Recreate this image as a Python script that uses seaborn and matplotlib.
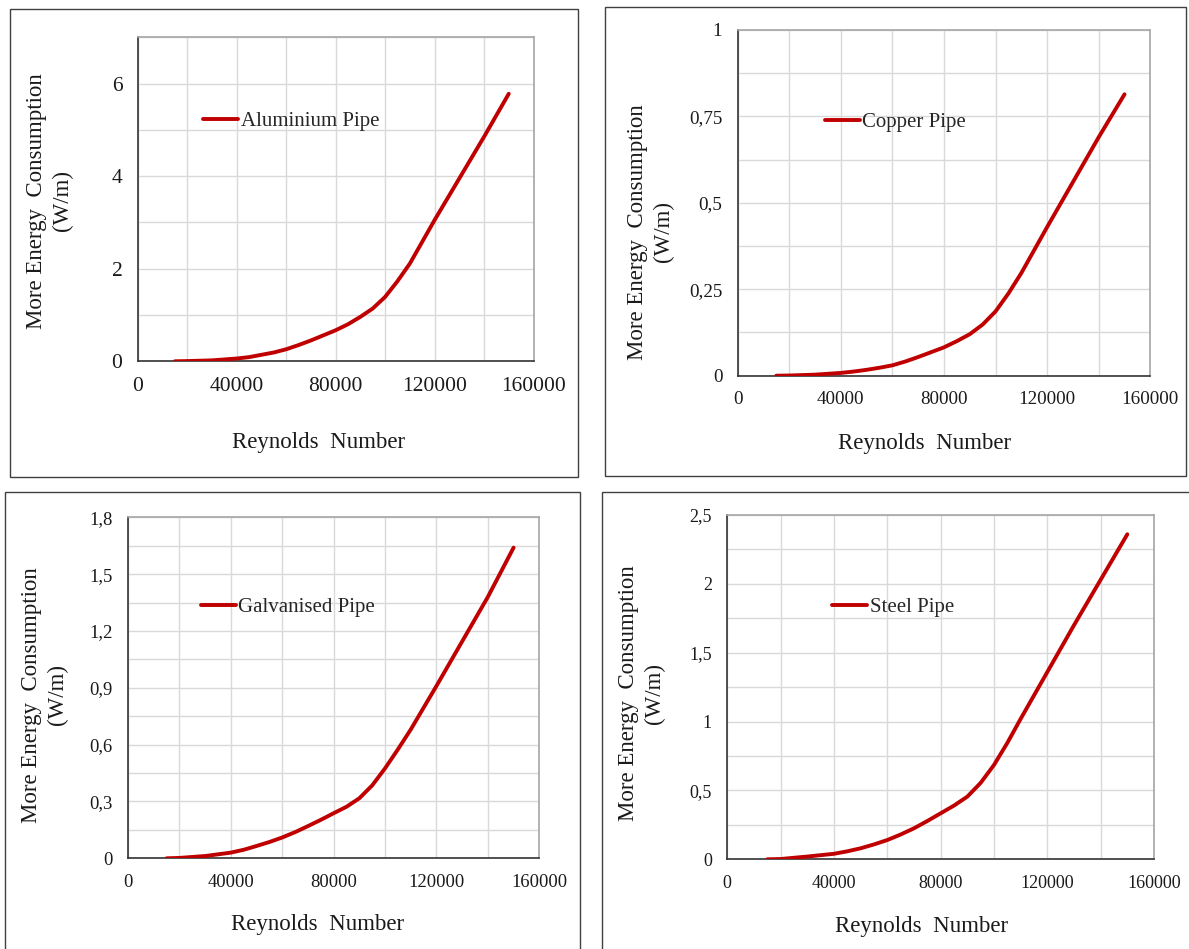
import matplotlib
matplotlib.use("Agg")
import matplotlib.pyplot as plt
import seaborn as sns
from matplotlib.patches import Rectangle
from matplotlib.ticker import MultipleLocator, FixedLocator, FixedFormatter

# Reynolds numbers (x values shared by all four pipes)
reynolds = [15000, 20000, 30000, 40000, 45000, 50000, 55000, 60000, 65000,
            70000, 75000, 80000, 85000, 90000, 95000, 100000, 105000,
            110000, 120000, 130000, 140000, 150000]

# More energy consumption (W/m)
aluminium = [0.0, 0.005, 0.02, 0.06, 0.09, 0.14, 0.19, 0.26, 0.35,
             0.45, 0.56, 0.67, 0.80, 0.96, 1.14, 1.39, 1.73,
             2.11, 3.05, 3.95, 4.85, 5.78]
copper = [0.0, 0.0005, 0.003, 0.008, 0.012, 0.017, 0.023, 0.03, 0.041,
          0.054, 0.068, 0.082, 0.10, 0.12, 0.148, 0.186, 0.238,
          0.297, 0.43, 0.56, 0.69, 0.814]
galvanised = [0.0, 0.002, 0.012, 0.03, 0.045, 0.065, 0.086, 0.11, 0.138,
              0.17, 0.203, 0.238, 0.272, 0.317, 0.385, 0.475, 0.575,
              0.68, 0.91, 1.145, 1.38, 1.64]
steel = [0.0, 0.002, 0.02, 0.04, 0.058, 0.08, 0.108, 0.14, 0.18,
         0.225, 0.278, 0.334, 0.39, 0.455, 0.555, 0.685, 0.845,
         1.02, 1.36, 1.70, 2.03, 2.36]

x_ticks = [0, 40000, 80000, 120000, 160000]
x_labels = ["0", "40000", "80000", "120000", "160000"]

al_ticks = [0, 2, 4, 6]
al_labels = ["0", "2", "4", "6"]
cu_ticks = [0, 0.25, 0.5, 0.75, 1]
cu_labels = ["0", "0,25", "0,5", "0,75", "1"]
ga_ticks = [0, 0.3, 0.6, 0.9, 1.2, 1.5, 1.8]
ga_labels = ["0", "0,3", "0,6", "0,9", "1,2", "1,5", "1,8"]
st_ticks = [0, 0.5, 1, 1.5, 2, 2.5]
st_labels = ["0", "0,5", "1", "1,5", "2", "2,5"]

W, H = 1189, 949
RED = "#C00000"

sns.set_style("white")
plt.rcParams["font.family"] = ["Liberation Serif", "DejaVu Serif"]

fig = plt.figure(figsize=(W / 100, H / 100), dpi=100)


def px_box(l, t, r, b):
    return [l / W, 1 - b / H, (r - l) / W, (b - t) / H]


panels = [
    # name, values, ticks, labels, ylim, minor step, axes box, frame box, legend pos,
    # tick size, ylabel coords, xlabel coords
    ("Aluminium Pipe", aluminium, al_ticks, al_labels, 7, 1,
     (137.7, 37.3, 533.5, 361.3), (10, 9, 578, 476.5), (203, 121.7),
     15.5, (-0.222, 0.495), (0.457, -0.252)),
    ("Copper Pipe", copper, cu_ticks, cu_labels, 1, 0.125,
     (737.6, 30, 1150.3, 375.7), (605, 6.7, 1186, 475.7), (825, 122.7),
     13.7, (-0.21, 0.416), (0.453, -0.195)),
    ("Galvanised Pipe", galvanised, ga_ticks, ga_labels, 1.8, 0.15,
     (128, 517.3, 539.3, 858.3), (5.4, 492.3, 580, 960), (201, 607.7),
     13.4, (-0.204, 0.479), (0.46, -0.193)),
    ("Steel Pipe", steel, st_ticks, st_labels, 2.5, 0.25,
     (727.3, 515, 1154, 859.3), (602, 491.7, 1200, 960), (832, 607.3),
     13.0, (-0.2, 0.4815), (0.456, -0.194)),
]

for (name, vals, yt, yl, ymax, ystep, abox, fbox, lpos,
     tsize, ylc, xlc) in panels:
    # frame around each panel
    fl, ft, fr, fb = fbox
    fig.patches.append(Rectangle((fl / W, 1 - fb / H), (fr - fl) / W, (fb - ft) / H,
                                 transform=fig.transFigure, fill=False,
                                 edgecolor="#404040", linewidth=1.0))

    ax = fig.add_axes(px_box(*abox))
    sns.lineplot(x=reynolds, y=vals, ax=ax, color=RED, linewidth=2.8,
                 label=name, zorder=5)
    ax.lines[0].set_solid_joinstyle("round")
    ax.lines[0].set_solid_capstyle("round")

    ax.set_xlim(0, 160000)
    ax.set_ylim(0, ymax)
    ax.xaxis.set_major_locator(FixedLocator(x_ticks))
    ax.xaxis.set_major_formatter(FixedFormatter(x_labels))
    ax.xaxis.set_minor_locator(MultipleLocator(20000))
    ax.yaxis.set_major_locator(FixedLocator(yt))
    ax.yaxis.set_major_formatter(FixedFormatter(yl))
    ax.yaxis.set_minor_locator(MultipleLocator(ystep))

    ax.grid(True, which="both", color="#d9d9d9", linewidth=1.0)
    ax.set_axisbelow(True)

    for s in ["left", "bottom"]:
        ax.spines[s].set_color("#333333")
        ax.spines[s].set_linewidth(1.2)
    for s in ["top", "right"]:
        ax.spines[s].set_color("#a6a6a6")
        ax.spines[s].set_linewidth(1.2)

    ax.tick_params(which="major", direction="out", length=6, width=1,
                   color="#333333", labelsize=tsize, pad=5,
                   labelcolor="#1a1a1a")
    ax.tick_params(which="minor", direction="in", length=4, width=1,
                   color="#333333")

    ax.set_xlabel("Reynolds  Number", fontsize=16.5, va="center",
                  color="#1a1a1a")
    ax.xaxis.set_label_coords(*xlc)
    ax.set_ylabel("More Energy  Consumption\n(W/m)", fontsize=16.5,
                  va="center", linespacing=1.3, color="#1a1a1a")
    ax.yaxis.set_label_coords(*ylc)

    ax.legend(loc="center left", bbox_to_anchor=(lpos[0] / W, 1 - lpos[1] / H),
              bbox_transform=fig.transFigure, frameon=False, fontsize=15,
              handlelength=1.7, handletextpad=0.1, borderpad=0,
              borderaxespad=0)

fig.savefig("out.png", dpi=100, facecolor="white")
